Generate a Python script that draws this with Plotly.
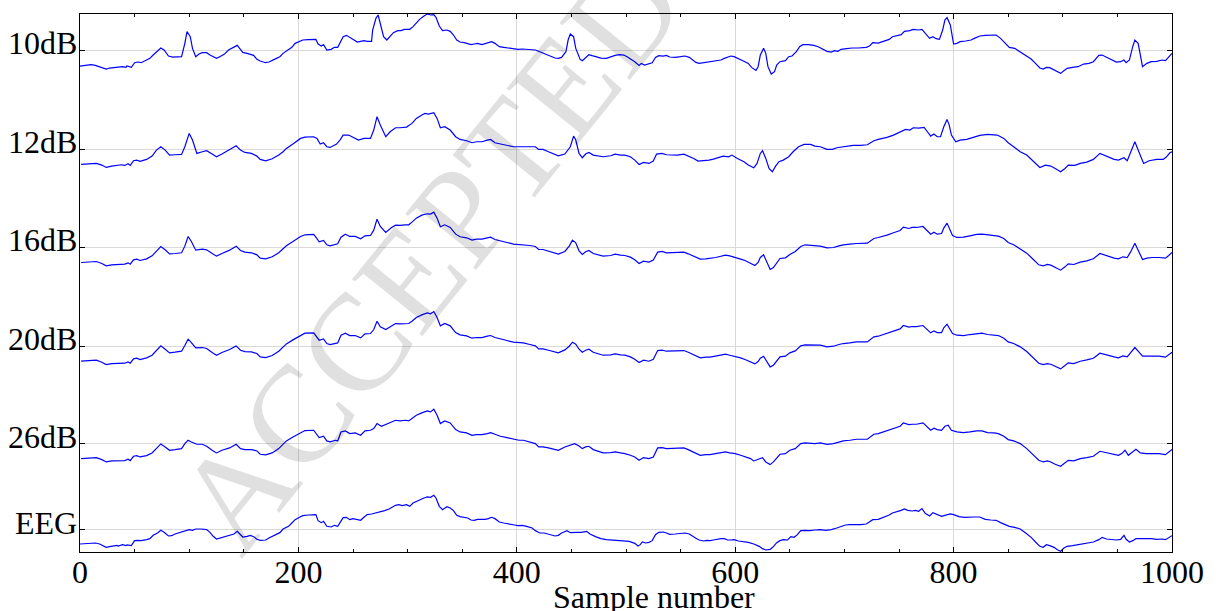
import plotly.graph_objects as go

# ---------------- data (sample number, amplitude) ----------------
labels = ["10dB", "12dB", "16dB", "20dB", "26dB", "EEG"]
baselines = [1504, 1208, 913, 617, 325, 67]
x_ticks = [0, 200, 400, 600, 800, 1000]
x_title = "Sample number"
watermark = "ACCEPTED"

eeg = [(0,-43),(5,-42),(10,-41),(14,-40),(18,-43),(21,-49),(24,-53),(27,-51),(31,-48),(34,-47),(35,-49),(39,-45),(42,-48),(43,-46),(47,-48),(50,-33),(53,-32),(56,-33),(61,-30),(64,-27),(67,-17),(71,-10),(74,-2),(77,-8),(81,-19),(84,-18),(87,-13),(92,-8),(96,-2),(100,0),(103,-2),(106,2),(111,2),(116,0),(119,-8),(122,-20),(125,-28),(128,-25),(132,-21),(136,-19),(141,-13),(144,-5),(146,-13),(149,-22),(153,-20),(156,-17),(159,-21),(162,-29),(165,-32),(170,-31),(173,-25),(178,-17),(183,-9),(186,2),(191,10),(194,20),(197,30),(201,37),(204,42),(209,44),(214,44),(216,45),(218,27),(221,21),(223,25),(226,10),(230,8),(233,13),(236,10),(239,27),(241,36),(244,37),(247,30),(250,33),(254,31),(257,28),(260,37),(263,45),(267,47),(270,49),(273,51),(276,53),(279,57),(283,62),(286,67),(289,73),(292,75),(295,72),(299,75),(302,70),(305,80),(308,85),(311,89),(315,95),(318,98),(321,97),(324,103),(326,95),(329,70),(332,60),(336,69),(339,65),(342,57),(345,43),(348,39),(352,38),(355,35),(358,29),(361,28),(364,31),(368,30),(371,31),(374,33),(377,37),(380,33),(384,23),(388,20),(393,18),(398,14),(401,12),(405,13),(409,10),(414,5),(417,-3),(421,-10),(425,-10),(430,-15),(435,-19),(438,-17),(441,-10),(446,-3),(449,-9),(454,-8),(459,-8),(464,-5),(467,-13),(472,-21),(477,-27),(482,-30),(486,-31),(490,-30),(494,-33),
       (498,-33),(503,-35),(508,-41),(511,-49),(513,-45),(515,-37),(518,-40),(521,-38),(524,-33),(527,-15),(530,-8),(534,-7),(537,-10),(540,-14),(545,-13),(550,-11),(554,-10),(558,-13),(561,-20),(564,-26),(567,-31),(571,-34),(574,-32),(577,-33),(580,-31),(583,-29),(587,-27),(590,-27),(593,-31),(596,-31),(599,-30),(603,-34),(607,-35),(612,-38),(617,-43),(622,-50),(625,-57),(628,-61),(632,-59),(635,-51),(638,-39),(641,-33),(644,-30),(648,-31),(651,-21),(654,-23),(657,-15),(660,-3),(664,-2),(668,-3),(673,-1),(678,0),(683,-2),(688,0),(693,5),(697,9),(701,14),(705,15),(710,14),(715,15),(720,17),(723,24),(726,30),(731,31),(736,37),(741,44),(744,50),(749,54),(752,58),(755,62),(758,58),(762,56),(765,58),(768,55),(771,63),(774,49),(778,41),(781,51),(784,47),(789,40),(792,43),(797,47),(800,45),(805,39),(810,37),(814,38),(819,38),(824,38),(829,31),(834,29),(839,28),(843,21),(848,15),(851,10),(856,7),(861,2),(866,-10),(871,-23),(875,-37),(879,-50),(882,-53),(885,-45),(888,-48),(892,-53),(895,-60),(898,-65),(901,-55),(904,-50),(909,-48),(914,-45),(919,-41),(924,-38),(928,-37),(933,-30),(936,-23),(940,-28),(945,-30),(949,-31),(953,-29),(956,-17),(958,-29),(961,-37),(964,-33),(967,-27),(972,-27),(977,-26),(981,-27),(986,-29),(991,-28),(994,-30),(997,-23),(1000,-18)]

db10 = [(0,-47),(5,-45),(10,-43),(14,-45),(18,-49),(21,-53),(24,-56),(27,-53),(32,-51),(35,-51),(39,-49),(42,-51),(43,-47),(47,-51),(50,-37),(53,-35),(56,-37),(61,-29),(64,-24),(67,-14),(71,-1),(74,7),(77,1),(81,-17),(85,-20),(90,-20),(93,-19),(96,21),(98,56),(101,41),(103,6),(106,-19),(109,-11),(112,-7),(116,-7),(119,-14),(122,-19),(125,-24),(128,-19),(132,-12),(136,1),(141,11),(144,15),(146,7),(149,-6),(153,-9),(156,-11),(159,-15),(162,-27),(165,-32),(170,-37),(173,-35),(178,-27),(183,-19),(186,-9),(191,1),(194,9),(197,21),(201,26),(204,31),(209,32),(214,33),(216,33),(218,19),(221,13),(223,17),(226,1),(230,3),(233,9),(236,9),(239,26),(241,41),(244,45),(247,39),(250,35),(254,25),(257,27),(260,29),(263,27),(267,27),(268,61),(271,96),(273,106),(275,81),(278,41),(281,31),(284,43),(287,53),(291,59),(294,59),(297,63),(302,63),(305,71),(308,83),(311,93),(315,103),(318,109),(321,106),(324,107),(326,99),(329,73),(332,59),(336,61),(339,57),(342,46),(345,31),(348,25),(352,23),(355,21),(358,17),(361,19),(364,21),(368,17),(371,20),(374,23),(377,26),(380,21),(384,11),(388,9),(393,7),(398,3),(401,3),(405,4),(409,3),(414,3),(417,1),(421,-4),(425,-9),(430,-17),(435,-23),(438,-24),(441,-21),(445,-4),(447,31),(449,49),(452,41),(454,6),(458,-27),(460,-31),(462,-24),(466,-13),(469,-16),(472,-19),(477,-23),(482,-24),(486,-19),(490,-15),(494,-13),
        (498,-14),(501,-19),(505,-27),(508,-34),(512,-45),(514,-39),(517,-44),(520,-41),(524,-37),(527,-21),(530,-16),(534,-17),(537,-15),(540,-20),(545,-21),(550,-19),(554,-17),(558,-21),(561,-29),(564,-36),(567,-39),(571,-37),(574,-36),(577,-36),(580,-34),(583,-31),(587,-29),(590,-24),(593,-21),(596,-17),(599,-19),(603,-24),(607,-31),(612,-39),(615,-51),(619,-60),(621,-49),(623,-14),(626,6),(628,-9),(630,-49),(633,-71),(636,-64),(638,-44),(641,-34),(646,-31),(649,-19),(652,-17),(656,-4),(659,11),(662,17),(667,17),(672,15),(676,11),(681,3),(684,-3),(688,-5),(691,-1),(694,-3),(697,3),(702,5),(707,7),(713,7),(720,9),(723,13),(726,23),(731,22),(736,28),(741,33),(744,41),(749,45),(752,47),(755,57),(760,59),(763,63),(768,61),(771,63),(774,51),(778,36),(781,41),(784,35),(787,33),(790,61),(792,91),(794,98),(797,76),(800,19),(803,21),(806,26),(811,28),(816,31),(819,36),(824,43),(829,45),(834,46),(839,46),(843,36),(848,21),(851,9),(856,6),(861,-4),(866,-14),(871,-26),(875,-39),(879,-53),(882,-56),(885,-51),(888,-52),(892,-59),(895,-64),(898,-69),(901,-61),(904,-54),(909,-51),(914,-49),(919,-41),(924,-39),(928,-34),(933,-15),(936,-14),(940,-21),(945,-29),(949,-35),(953,-34),(956,-29),(958,-37),(961,-29),(964,11),(966,31),(969,21),(971,-19),(973,-49),(977,-39),(981,-34),(986,-33),(991,-29),(994,-31),(997,-19),(1000,-9)]

db12 = [(1,-46),(6,-45),(15,-43),(20,-48),(24,-55),(29,-51),(34,-50),(38,-47),(41,-49),(44,-44),(46,-49),(49,-35),(52,-33),(55,-37),(61,-31),(66,-21),(70,-3),(74,7),(78,-3),(82,-18),(87,-17),(93,-16),(96,7),(100,47),(103,27),(107,-13),(112,-8),(116,-5),(121,-15),(125,-23),(130,-15),(137,-1),(143,10),(147,-3),(151,-10),(157,-13),(162,-21),(165,-31),(170,-35),(176,-29),(182,-18),(186,-8),(189,2),(195,15),(202,32),(206,36),(214,37),(217,32),(220,15),(223,19),(226,7),(229,5),(232,9),(235,15),(238,27),(241,42),(246,42),(250,35),(255,27),(260,32),(266,32),(269,57),(272,97),(275,72),(280,37),(284,52),(289,64),(293,64),(299,66),(304,77),(308,92),(313,102),(316,107),(319,105),(324,109),(327,92),(330,64),(334,67),(339,57),(344,37),(348,29),(354,25),(359,19),(363,22),(368,22),(373,27),(376,29),(380,19),(385,15),(391,11),(397,7),(402,7),(406,7),(412,7),(417,7),(420,-1),(424,-1),(429,-8),(434,-15),(438,-20),(444,-15),(449,7),(452,39),(454,27),(457,-13),(460,-26),(463,-15),(466,-10),(470,-18),(475,-21),
        (479,-23),(486,-20),(490,-15),(495,-18),(499,-18),(504,-23),(508,-33),(512,-46),(516,-40),(521,-43),(525,-36),(528,-15),(533,-13),(537,-17),(542,-18),(547,-18),(553,-15),(557,-20),(562,-28),(566,-36),(571,-35),(576,-33),(580,-30),(585,-25),(589,-21),(594,-23),(597,-18),(602,-28),(608,-38),(612,-48),(617,-56),(620,-43),(623,-13),(625,-5),(628,-28),(631,-58),(634,-68),(637,-51),(640,-38),(644,-33),(649,-23),(653,-8),(658,7),(663,14),(669,14),(673,9),(678,7),(684,-1),(689,-1),(693,4),(698,7),(702,9),(708,11),(715,11),(721,13),(724,19),(727,25),(731,29),(736,32),
        (739,35),(745,42),(751,50),(756,59),(760,57),(763,64),(768,63),(773,65),(776,52),(779,39),(782,45),(785,37),(788,37),(791,67),(794,89),(796,72),(798,42),(802,22),(806,27),(812,29),(818,35),(824,41),(831,44),(840,42),(846,32),(850,19),(855,7),(861,-8),(867,-18),(873,-38),(879,-55),(884,-48),(889,-51),(893,-58),(898,-68),(902,-58),(905,-48),(911,-49),(916,-43),(922,-39),(928,-31),(934,-13),(940,-21),(947,-31),(951,-33),(956,-26),(959,-35),(962,-8),(966,22),(969,-3),(974,-43),(979,-35),(986,-31),(992,-31),(995,-23),(998,-11),(1000,-8)]

db16 = [(1,-45),(6,-44),(15,-42),(20,-48),(24,-55),(29,-52),(34,-51),(38,-49),(41,-50),(44,-46),(46,-50),(49,-37),(52,-35),(55,-39),(61,-34),(66,-25),(70,-10),(74,3),(78,-7),(82,-19),(87,-18),(93,-16),(96,4),(99,33),(102,18),(106,-8),(112,-5),(116,-7),(121,-18),(125,-26),(130,-18),(137,-8),(143,4),(147,-9),(151,-14),(157,-16),(162,-22),(165,-32),(170,-34),(176,-28),(182,-16),(186,-5),
        (189,5),(195,18),(202,33),(206,38),(214,39),(216,31),(219,17),(223,21),(226,8),(229,5),(234,10),(236,11),(239,31),(243,40),(247,33),(252,33),(257,26),(261,35),(266,36),(269,52),(272,85),(275,63),(280,45),(285,59),(289,67),(293,66),(298,68),(301,68),(304,76),(308,88),(313,97),(318,101),(321,100),(324,106),(327,88),(330,62),(334,68),(339,60),(344,40),(348,32),(354,29),(359,22),(363,25),(368,25),(373,29),(376,31),(380,24),(385,19),(391,15),(397,10),(402,9),(406,9),(412,6),(417,3),(420,-6),(424,-6),(429,-11),(434,-16),(438,-20),(444,-12),(448,4),(451,22),(454,14),(457,-10),(460,-21),(463,-13),(466,-9),(470,-18),(475,-22),
        (479,-26),(486,-24),(490,-20),(495,-23),(499,-24),(504,-29),(508,-37),(512,-48),(516,-41),(521,-44),(525,-38),(529,-14),(533,-12),(537,-16),(542,-16),(547,-16),(553,-14),(557,-19),(563,-28),(568,-35),(573,-34),(577,-33),(582,-30),(586,-27),(591,-23),(595,-25),(600,-29),(605,-35),(609,-39),(614,-47),(618,-54),(621,-45),(623,-30),(626,-22),(629,-45),(632,-66),(635,-60),(638,-47),(641,-33),(646,-31),(650,-21),(655,-12),(660,3),(664,8),(669,7),(673,5),(678,4),(684,-1),(690,0),(695,5),(699,8),(705,10),(711,12),(721,13),(724,20),(727,27),(731,30),(736,34),
        (739,37),(745,44),(751,51),(754,61),(759,57),(762,60),(766,60),(772,63),(776,50),(779,40),(782,46),(785,40),(789,42),(791,58),(794,73),(796,60),(799,36),(803,30),(809,31),(815,35),(821,39),(826,40),(831,38),(837,37),(841,34),(846,27),(850,15),(855,8),(861,-4),(867,-17),(873,-36),(878,-52),(882,-55),(886,-51),(889,-53),(893,-60),(898,-68),(902,-58),(905,-49),(910,-51),(916,-44),(922,-40),(928,-34),(934,-18),(940,-25),(947,-32),(951,-34),(955,-28),(959,-30),(962,-14),(966,13),(969,-8),(973,-36),(977,-32),(982,-30),(988,-30),(994,-32),(997,-24),(1000,-15)]

db20 = [(1,-45),(6,-44),(15,-42),(20,-48),(24,-55),(29,-52),(34,-52),(38,-50),(41,-51),(44,-47),(46,-51),(49,-38),(52,-36),(55,-40),(61,-35),(66,-27),(70,-13),(74,1),(78,-9),(82,-20),(87,-18),(93,-15),(96,2),(99,21),(102,11),(106,-5),(112,-4),(116,-7),(121,-19),(125,-27),(130,-19),(137,-10),(143,1),(147,-12),(151,-16),(157,-17),(162,-22),(165,-32),(170,-34),(176,-28),(182,-15),(186,-4),
        (189,7),(195,19),(202,33),(206,39),(214,40),(216,31),(219,18),(223,22),(226,8),(229,5),(234,10),(236,10),(239,33),(243,39),(247,32),(252,32),(257,25),(261,37),(266,38),(269,50),(272,75),(275,58),(280,50),(285,61),(289,68),(293,67),(298,69),(301,68),(304,75),(308,86),(313,94),(318,100),(321,97),(324,104),(327,86),(330,61),(334,68),(339,61),(344,41),(348,34),(354,31),(359,24),(363,26),(368,26),(373,30),(376,32),(380,26),(385,21),(391,17),(397,12),(402,10),(406,10),(412,5),(417,1),(420,-8),(424,-8),(429,-12),(434,-17),(438,-20),(444,-11),(448,0),(451,12),(454,6),(457,-9),(460,-18),(463,-12),(466,-9),(470,-18),(475,-23),
        (479,-27),(486,-26),(490,-23),(495,-26),(499,-27),(504,-32),(508,-39),(512,-49),(516,-42),(521,-45),(525,-39),(529,-13),(533,-12),(537,-15),(542,-15),(547,-15),(553,-13),(557,-18),(563,-28),(568,-35),(573,-33),(577,-33),(582,-30),(586,-28),(591,-24),(595,-27),(600,-30),(605,-35),(609,-40),(614,-46),(618,-53),(621,-46),(623,-36),(626,-30),(629,-48),(632,-62),(635,-57),(638,-46),(641,-32),(646,-30),(650,-20),(655,-14),(660,1),(664,4),(669,3),(673,2),(678,3),(684,-2),(690,0),(695,5),(699,8),(705,10),(711,13),(721,13),(724,20),(727,28),(731,30),(736,35),
        (739,38),(745,45),(751,52),(754,62),(759,57),(762,59),(766,59),(772,62),(776,49),(779,40),(782,46),(785,41),(789,41),(791,55),(794,66),(796,56),(799,38),(803,33),(809,32),(815,35),(821,38),(826,39),(831,35),(837,34),(841,32),(846,24),(850,13),(855,8),(861,-2),(867,-16),(873,-35),(878,-51),(882,-55),(886,-52),(889,-54),(893,-61),(898,-68),(902,-58),(905,-50),(910,-52),(916,-45),(922,-41),(928,-36),(934,-21),(940,-27),(947,-32),(951,-35),(955,-29),(959,-32),(962,-20),(966,-4),(969,-15),(973,-30),(977,-30),(982,-30),(988,-30),(994,-33),(997,-25),(1000,-18)]

db26 = [(1,-45),(6,-44),(15,-42),(20,-48),(24,-55),(29,-52),(34,-52),(38,-50),(41,-51),(44,-47),(46,-51),(49,-38),(52,-36),(55,-40),(61,-36),(66,-28),(70,-16),(74,-1),(78,-10),(82,-20),(87,-18),(93,-15),(96,0),(99,10),(102,5),(107,-2),(112,-2),(116,-8),(121,-20),(125,-28),(130,-20),(137,-13),(143,-2),(147,-15),(151,-18),(157,-18),(162,-22),(165,-32),(170,-34),(176,-28),(182,-15),(186,-3),
        (189,8),(195,20),(202,33),(206,39),(214,40),(216,30),(219,18),(223,22),(226,8),(229,5),(234,10),(236,8),(239,35),(243,38),(247,30),(252,32),(257,25),(261,38),(266,40),(269,45),(272,60),(276,52),(281,58),(286,65),(289,70),(293,68),(298,70),(301,68),(304,75),(308,85),(313,92),(318,98),(321,95),(324,103),(327,85),(330,60),(334,68),(339,62),(344,42),(348,35),(354,32),(359,25),(363,27),(368,27),(373,30),(376,33),(380,28),(385,22),(391,18),(397,13),(402,10),(406,10),(412,5),(417,0),(420,-10),(424,-10),(429,-13),(434,-17),(438,-20),(444,-10),(449,-5),(453,0),(457,-7),(460,-15),(463,-10),(466,-8),(470,-18),(475,-23),
        (479,-28),(486,-27),(490,-25),(495,-28),(499,-30),(504,-35),(508,-40),(512,-50),(516,-42),(521,-45),(525,-40),(529,-13),(533,-12),(537,-15),(542,-15),(547,-15),(553,-13),(557,-18),(563,-28),(568,-35),(573,-33),(577,-33),(582,-30),(586,-28),(591,-25),(595,-28),(600,-30),(605,-35),(609,-40),(614,-45),(617,-52),(620,-48),(623,-45),(625,-42),(628,-55),(632,-63),(635,-55),(638,-45),(641,-32),(646,-30),(650,-20),(655,-15),(660,0),(664,2),(669,0),(673,0),(678,2),(684,-2),(690,0),(695,5),(699,8),(705,10),(711,13),(721,13),(724,20),(727,28),(731,30),(736,35),
        (739,38),(745,45),(751,52),(754,62),(759,57),(762,58),(766,58),(772,62),(776,48),(779,40),(782,46),(785,42),(789,40),(792,52),(795,55),(798,40),(803,35),(809,33),(815,35),(821,38),(826,38),(831,33),(837,32),(841,30),(846,22),(850,12),(855,8),(861,0),(867,-15),(873,-35),(878,-50),(882,-55),(886,-52),(889,-55),(893,-62),(898,-68),(902,-58),(905,-50),(910,-52),(916,-45),(922,-42),(928,-38),(934,-23),(940,-28),(947,-32),(951,-35),(954,-30),(957,-20),(960,-35),(963,-28),(967,-17),(971,-28),(976,-30),(982,-30),(988,-30),(994,-33),(997,-25),(1000,-18)]

series = [db10, db12, db16, db20, db26, eeg]

# ---------------- figure ----------------
FONT = "Liberation Serif"
FS = 32
fig = go.Figure()
for data, base in zip(series, baselines):
    s = [p[0] for p in data]
    v = [base + p[1] for p in data]
    fig.add_trace(go.Scatter(x=s, y=v, mode="lines",
                             line=dict(color="#0000ff", width=1.2),
                             showlegend=False, hoverinfo="skip"))

annotations = []
for lab, base in zip(labels, baselines):
    annotations.append(dict(x=0, xref="paper", y=base, yref="y", text=lab,
                            showarrow=False, xanchor="right", yanchor="middle",
                            xshift=-1, yshift=7,
                            font=dict(family=FONT, size=FS, color="black")))
annotations.append(dict(x=0.5, xref="paper", y=0, yref="paper", text=x_title,
                        showarrow=False, xanchor="center", yanchor="middle",
                        xshift=28, yshift=-45,
                        font=dict(family=FONT, size=FS, color="black")))
annotations.append(dict(x=320, xref="x", y=895, yref="y", text=watermark,
                        showarrow=False, textangle=-51,
                        font=dict(family=FONT, size=138, color="rgba(0,0,0,0.12)")))

fig.update_layout(
    width=1228, height=611,
    margin=dict(l=80, r=56, t=14, b=59, autoexpand=False),
    paper_bgcolor="white", plot_bgcolor="white",
    annotations=annotations,
    xaxis=dict(range=[0, 1000], tickvals=x_ticks, ticks="inside", ticklen=5,
               tickcolor="black", showline=True, linecolor="black", linewidth=1,
               mirror="ticks", showgrid=True, gridcolor="#d9d9d9", gridwidth=1,
               zeroline=False, automargin=False, ticklabelstandoff=-8,
               minor=dict(dtick=50, ticks="inside", ticklen=3, tickcolor="black", showgrid=False),
               tickfont=dict(family=FONT, size=FS, color="black")),
    yaxis=dict(range=[0, 1613], tickvals=baselines, ticks="inside", ticklen=5,
               tickcolor="black", showticklabels=False, showline=True,
               linecolor="black", linewidth=1, mirror="ticks", showgrid=True,
               gridcolor="#d9d9d9", gridwidth=1, zeroline=False, automargin=False),
)

fig.write_html("out.html")
